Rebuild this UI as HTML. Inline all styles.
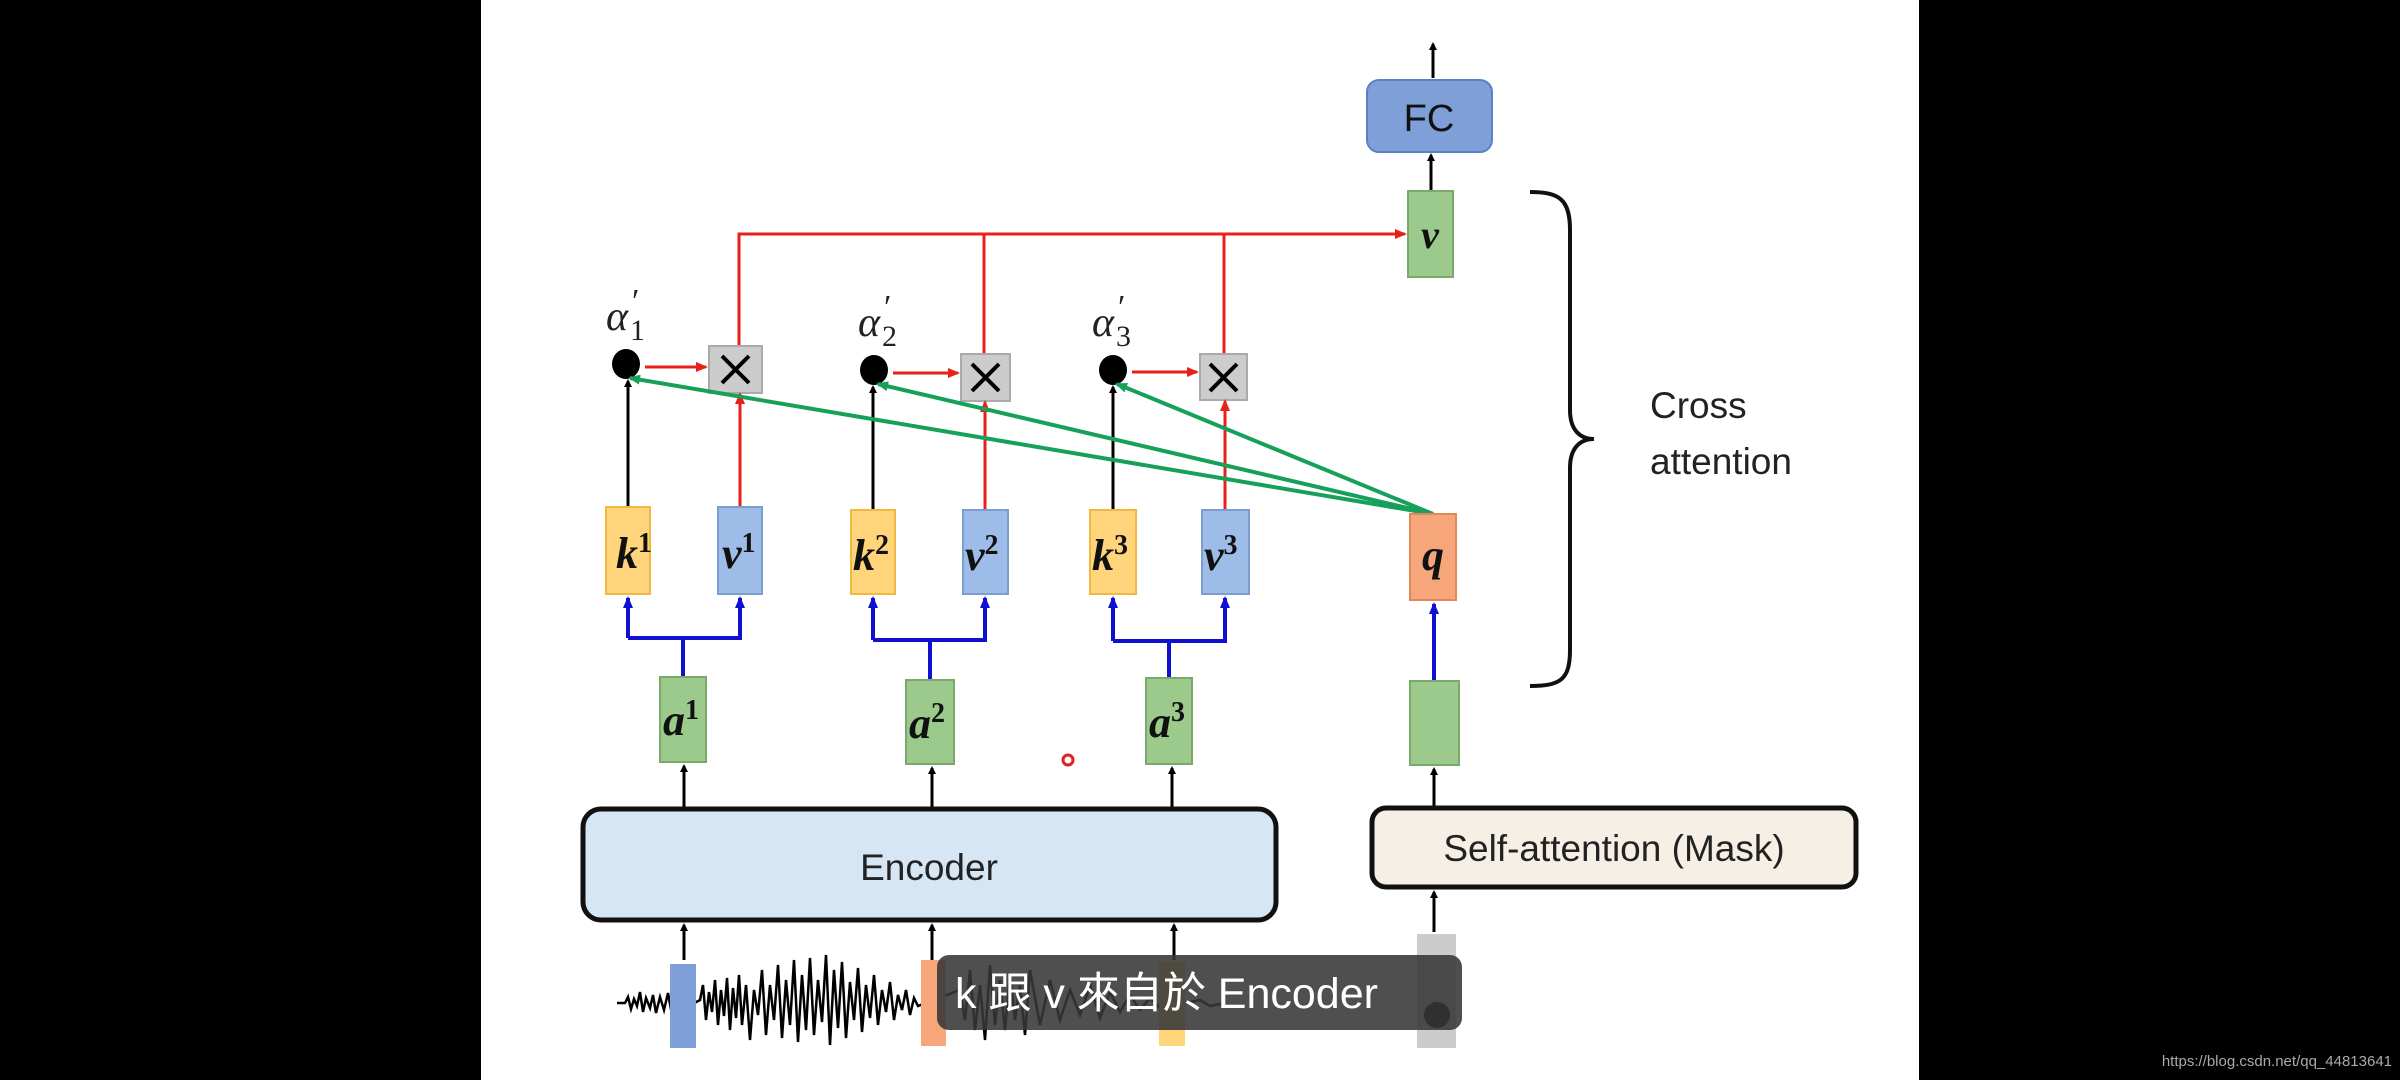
<!DOCTYPE html>
<html><head><meta charset="utf-8"><style>
html,body{margin:0;padding:0;background:#000;width:2400px;height:1080px;overflow:hidden}
svg{display:block}
</style></head><body>
<svg width="2400" height="1080" viewBox="0 0 2400 1080" xmlns="http://www.w3.org/2000/svg">
<defs>
<marker id="ak" markerWidth="8" markerHeight="8" refX="6" refY="4" orient="auto" markerUnits="userSpaceOnUse"><path d="M0,0 L8,4 L0,8 z" fill="#000"/></marker>
<marker id="ar" markerWidth="12" markerHeight="10" refX="10" refY="5" orient="auto" markerUnits="userSpaceOnUse"><path d="M0,0 L12,5 L0,10 z" fill="#e8201a"/></marker>
<marker id="ab" markerWidth="12" markerHeight="10" refX="10" refY="5" orient="auto" markerUnits="userSpaceOnUse"><path d="M0,0 L12,5 L0,10 z" fill="#1010d0"/></marker>
<marker id="ag" markerWidth="12" markerHeight="10" refX="10" refY="5" orient="auto" markerUnits="userSpaceOnUse"><path d="M0,0 L12,5 L0,10 z" fill="#16a05a"/></marker>
</defs>
<rect x="481" y="0" width="1438" height="1080" fill="#fff"/>
<g font-family="Liberation Serif, serif" font-weight="bold" font-style="italic">
<line x1="1433" y1="78" x2="1433" y2="44" stroke="#000" stroke-width="3" marker-end="url(#ak)"/>
<rect x="1367" y="80" width="125" height="72" rx="12" fill="#7e9fd8" stroke="#5b80c8" stroke-width="2"/>
<text x="1429" y="131" font-family="Liberation Sans, sans-serif" font-style="normal" font-weight="normal" font-size="38" text-anchor="middle" fill="#111">FC</text>
<line x1="1431" y1="190" x2="1431" y2="155" stroke="#000" stroke-width="3" marker-end="url(#ak)"/>
<rect x="1408" y="191" width="45" height="86" fill="#9cc98c" stroke="#7aaa6a" stroke-width="2"/>
<text x="1430" y="248" font-size="40" text-anchor="middle" fill="#111">v</text>
<polyline points="739,346 739,234 1405,234" fill="none" stroke="#e8201a" stroke-width="3" marker-end="url(#ar)"/>
<line x1="984" y1="234" x2="984" y2="354" stroke="#e8201a" stroke-width="3"/>
<line x1="1224" y1="234" x2="1224" y2="354" stroke="#e8201a" stroke-width="3"/>
<g stroke="#000" stroke-width="4">
<rect x="709" y="346" width="53" height="47" fill="#ccc" stroke="#aaa" stroke-width="2"/>
<line x1="722" y1="356" x2="749" y2="383"/><line x1="749" y1="356" x2="722" y2="383"/>
<rect x="961" y="354" width="49" height="47" fill="#ccc" stroke="#aaa" stroke-width="2"/>
<line x1="972" y1="364" x2="999" y2="391"/><line x1="999" y1="364" x2="972" y2="391"/>
<rect x="1200" y="354" width="47" height="46" fill="#ccc" stroke="#aaa" stroke-width="2"/>
<line x1="1210" y1="364" x2="1237" y2="391"/><line x1="1237" y1="364" x2="1210" y2="391"/>
</g>
<ellipse cx="626" cy="364" rx="14" ry="15" fill="#000"/>
<ellipse cx="874" cy="370" rx="14" ry="15" fill="#000"/>
<ellipse cx="1113" cy="370" rx="14" ry="15" fill="#000"/>
<g stroke="#e8201a" stroke-width="3">
<line x1="645" y1="367" x2="706" y2="367" marker-end="url(#ar)"/>
<line x1="893" y1="373" x2="958" y2="373" marker-end="url(#ar)"/>
<line x1="1132" y1="372" x2="1197" y2="372" marker-end="url(#ar)"/>
</g>
<g font-family="Liberation Serif, serif" font-weight="normal" font-style="italic" font-size="42" fill="#222">
<text x="606" y="330">α</text><text x="632" y="312" font-size="34" font-style="normal">′</text><text x="630" y="340" font-size="30" font-style="normal">1</text>
<text x="858" y="336">α</text><text x="884" y="318" font-size="34" font-style="normal">′</text><text x="882" y="346" font-size="30" font-style="normal">2</text>
<text x="1092" y="336">α</text><text x="1118" y="318" font-size="34" font-style="normal">′</text><text x="1116" y="346" font-size="30" font-style="normal">3</text>
</g>
<g stroke="#000" stroke-width="3">
<line x1="628" y1="507" x2="628" y2="381" marker-end="url(#ak)"/>
<line x1="873" y1="510" x2="873" y2="387" marker-end="url(#ak)"/>
<line x1="1113" y1="510" x2="1113" y2="387" marker-end="url(#ak)"/>
</g>
<g stroke="#e8201a" stroke-width="3">
<line x1="740" y1="507" x2="740" y2="394" marker-end="url(#ar)"/>
<line x1="985" y1="510" x2="985" y2="402" marker-end="url(#ar)"/>
<line x1="1225" y1="510" x2="1225" y2="401" marker-end="url(#ar)"/>
</g>
<g stroke="#16a05a" stroke-width="4">
<line x1="1433" y1="514" x2="630" y2="378" marker-end="url(#ag)"/>
<line x1="1433" y1="514" x2="878" y2="384" marker-end="url(#ag)"/>
<line x1="1433" y1="514" x2="1117" y2="384" marker-end="url(#ag)"/>
</g>
<g font-size="44" fill="#111">
<rect x="606" y="507" width="44" height="87" fill="#ffd47a" stroke="#f0b840" stroke-width="2"/>
<text x="616" y="568">k<tspan font-size="28" dy="-16" font-style="normal">1</tspan></text>
<rect x="718" y="507" width="44" height="87" fill="#9dbde8" stroke="#7a9ed0" stroke-width="2"/>
<text x="722" y="568">v<tspan font-size="28" dy="-16" font-style="normal">1</tspan></text>
<rect x="851" y="510" width="44" height="84" fill="#ffd47a" stroke="#f0b840" stroke-width="2"/>
<text x="853" y="570">k<tspan font-size="28" dy="-16" font-style="normal">2</tspan></text>
<rect x="963" y="510" width="45" height="84" fill="#9dbde8" stroke="#7a9ed0" stroke-width="2"/>
<text x="965" y="570">v<tspan font-size="28" dy="-16" font-style="normal">2</tspan></text>
<rect x="1090" y="510" width="46" height="84" fill="#ffd47a" stroke="#f0b840" stroke-width="2"/>
<text x="1092" y="570">k<tspan font-size="28" dy="-16" font-style="normal">3</tspan></text>
<rect x="1202" y="510" width="47" height="84" fill="#9dbde8" stroke="#7a9ed0" stroke-width="2"/>
<text x="1204" y="570">v<tspan font-size="28" dy="-16" font-style="normal">3</tspan></text>
<rect x="1410" y="514" width="46" height="86" fill="#f6a67a" stroke="#e08858" stroke-width="2"/>
<text x="1433" y="570" text-anchor="middle">q</text>
</g>
<g stroke="#1010d0" stroke-width="4" fill="none">
<polyline points="628,638 628,598" marker-end="url(#ab)"/><polyline points="628,638 740,638 740,598" marker-end="url(#ab)"/><line x1="683" y1="638" x2="683" y2="677"/>
<polyline points="873,640 873,598" marker-end="url(#ab)"/><polyline points="873,640 985,640 985,598" marker-end="url(#ab)"/><line x1="930" y1="640" x2="930" y2="680"/>
<polyline points="1113,641 1113,598" marker-end="url(#ab)"/><polyline points="1113,641 1225,641 1225,598" marker-end="url(#ab)"/><line x1="1169" y1="641" x2="1169" y2="678"/>
<line x1="1434" y1="681" x2="1434" y2="604" marker-end="url(#ab)"/>
</g>
<g font-size="44" fill="#111">
<rect x="660" y="677" width="46" height="85" fill="#9cc98c" stroke="#7aaa6a" stroke-width="2"/>
<text x="663" y="735">a<tspan font-size="28" dy="-16" font-style="normal">1</tspan></text>
<rect x="906" y="680" width="48" height="84" fill="#9cc98c" stroke="#7aaa6a" stroke-width="2"/>
<text x="909" y="738">a<tspan font-size="28" dy="-16" font-style="normal">2</tspan></text>
<rect x="1146" y="678" width="46" height="86" fill="#9cc98c" stroke="#7aaa6a" stroke-width="2"/>
<text x="1149" y="737">a<tspan font-size="28" dy="-16" font-style="normal">3</tspan></text>
<rect x="1410" y="681" width="49" height="84" fill="#9cc98c" stroke="#7aaa6a" stroke-width="2"/>
</g>
<g stroke="#000" stroke-width="3">
<line x1="684" y1="807" x2="684" y2="766" marker-end="url(#ak)"/>
<line x1="932" y1="807" x2="932" y2="768" marker-end="url(#ak)"/>
<line x1="1172" y1="807" x2="1172" y2="768" marker-end="url(#ak)"/>
<line x1="1434" y1="806" x2="1434" y2="769" marker-end="url(#ak)"/>
<line x1="684" y1="960" x2="684" y2="925" marker-end="url(#ak)"/>
<line x1="932" y1="960" x2="932" y2="925" marker-end="url(#ak)"/>
<line x1="1174" y1="960" x2="1174" y2="925" marker-end="url(#ak)"/>
<line x1="1434" y1="932" x2="1434" y2="892" marker-end="url(#ak)"/>
</g>
<rect x="583" y="809" width="693" height="111" rx="18" fill="#d6e6f4" stroke="#111" stroke-width="5"/>
<text x="929" y="880" font-family="Liberation Sans, sans-serif" font-style="normal" font-weight="normal" font-size="37" text-anchor="middle" fill="#222">Encoder</text>
<rect x="1372" y="808" width="484" height="79" rx="14" fill="#f6efe6" stroke="#111" stroke-width="5"/>
<text x="1614" y="861" font-family="Liberation Sans, sans-serif" font-style="normal" font-weight="normal" font-size="37" text-anchor="middle" fill="#222">Self-attention (Mask)</text>
<path d="M617,1003 L625,1003 L628,997 L631,1009 L634,999 L637,1006 L640,992 L643,1012 L646,998 L650,1008 L653,995 L656,1013 L660,997 L664,1010 L668,993 L672,1015 L700,1000 L703,985 L706,1020 L709,992 L712,1012 L715,980 L718,1025 L721,990 L724,1016 L727,978 L730,1030 L733,988 L736,1018 L739,975 L742,1025 L746,985 L750,1040 L754,990 L758,1015 L762,970 L766,1035 L770,985 L774,1020 L778,965 L782,1038 L786,980 L790,1025 L794,960 L798,1042 L802,975 L806,1030 L810,958 L814,1035 L818,980 L822,1022 L826,955 L830,1045 L834,970 L838,1028 L842,962 L846,1038 L850,982 L854,1020 L858,968 L862,1032 L866,985 L870,1018 L874,975 L878,1025 L882,990 L886,1012 L890,982 L894,1020 L898,995 L902,1010 L906,990 L910,1015 L914,998 L918,1006 L960,990 L965,1020 L970,970 L975,1030 L980,985 L985,1040 L990,965 L995,1025 L1000,980 L1005,1030 L1010,975 L1015,1020 L1020,985 L1025,1035 L1030,970 L1040,1025 L1050,980 L1060,1020 L1070,990 L1080,1015 L1090,985 L1100,1018 L1110,992 L1120,1012 L1130,995 L1140,1010 L1150,998 L1160,1008 L1200,1000 L1210,1006 L1225,1003" fill="none" stroke="#000" stroke-width="2.5"/>
<rect x="670" y="964" width="26" height="84" fill="#7e9fd8"/>
<rect x="921" y="960" width="25" height="86" fill="#f6a67a"/>
<rect x="1159" y="962" width="26" height="84" fill="#ffd47a"/>
<rect x="1417" y="934" width="39" height="114" fill="#ccc"/>
<circle cx="1437" cy="1015" r="13" fill="#000"/>
<path d="M1530,192 C1560,192 1570,200 1570,230 L1570,410 C1570,430 1580,439 1594,439 C1580,439 1570,448 1570,468 L1570,650 C1570,680 1560,686 1530,686" fill="none" stroke="#111" stroke-width="4"/>
<text x="1650" y="418" font-family="Liberation Sans, sans-serif" font-style="normal" font-weight="normal" font-size="37" fill="#222">Cross</text>
<text x="1650" y="474" font-family="Liberation Sans, sans-serif" font-style="normal" font-weight="normal" font-size="37" fill="#222">attention</text>
<circle cx="1068" cy="760" r="5" fill="none" stroke="#e02020" stroke-width="3"/>
<rect x="937" y="955" width="525" height="75" rx="12" fill="rgba(55,55,55,0.88)"/>
<text x="955" y="1008" font-family="Liberation Sans, 'Noto Sans CJK TC', sans-serif" font-style="normal" font-weight="normal" font-size="43" fill="#fff">k 跟 v 來自於 Encoder</text>
</g>
<text x="2392" y="1066" font-family="Liberation Sans, sans-serif" font-size="15" text-anchor="end" fill="#aaa">https://blog.csdn.net/qq_44813641</text>
</svg>
</body></html>
